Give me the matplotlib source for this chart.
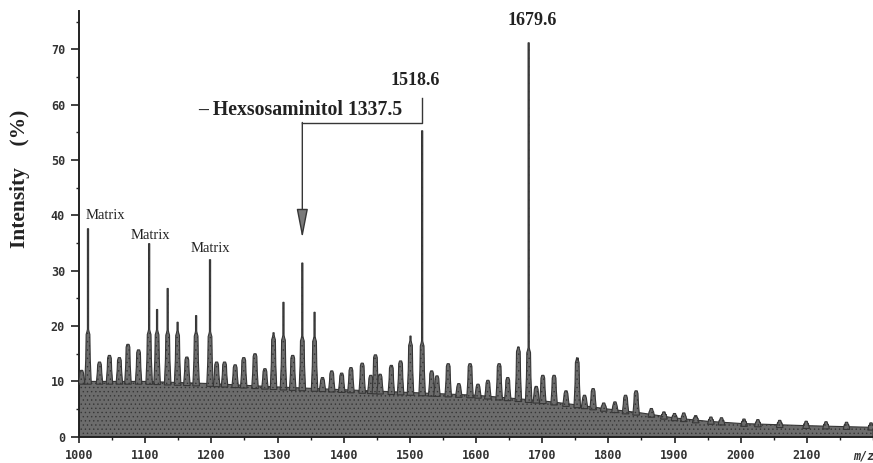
import numpy as np
import matplotlib
matplotlib.use("Agg")
import matplotlib.pyplot as plt
from matplotlib.ticker import MultipleLocator

# MALDI spectrum, m/z 1000-2200
floor_mz = [1000, 1100, 1200, 1300, 1400, 1500, 1600, 1700, 1750, 1800,
            1850, 1900, 1950, 2000, 2100, 2200]
floor_pct = [10.0, 10.0, 9.6, 9.0, 8.5, 8.0, 7.5, 6.5, 5.8, 5.0,
             4.3, 3.4, 2.8, 2.4, 2.0, 1.7]

peak_mz = [1004, 1013.6, 1031, 1046, 1061, 1074, 1090, 1106, 1118, 1134,
           1149, 1163, 1177, 1198, 1208, 1220, 1236, 1249, 1266, 1281,
           1294, 1309, 1323, 1337.5, 1356, 1368, 1382, 1397, 1411, 1428,
           1441, 1448, 1455, 1472, 1486, 1501, 1518.6, 1533, 1541, 1558,
           1574, 1591, 1603, 1618, 1635, 1648, 1664, 1679.6, 1691, 1701,
           1718, 1736, 1753, 1764, 1777, 1793, 1810, 1826, 1842, 1865,
           1884, 1900, 1914, 1932, 1955, 1971, 2005, 2026, 2059, 2099,
           2129, 2160, 2197]
peak_pct = [12.0, 37.6, 13.5, 14.7, 14.3, 16.7, 15.7, 34.9, 23.0, 26.8,
            20.7, 14.4, 21.9, 32.0, 13.5, 13.5, 13.0, 14.3, 15.0, 12.3,
            18.8, 24.3, 14.7, 31.4, 22.5, 10.7, 11.9, 11.5, 12.5, 13.3,
            11.1, 14.8, 11.3, 12.9, 13.7, 18.2, 55.3, 11.9, 11.0, 13.2,
            9.6, 13.2, 9.5, 10.2, 13.2, 10.7, 16.2, 71.2, 9.1, 11.1,
            11.1, 8.3, 13.9, 7.5, 8.7, 6.1, 6.3, 7.5, 8.3, 5.1,
            4.3, 3.7, 4.3, 3.4, 3.5, 2.8, 3.2, 2.4, 2.6, 2.2,
            2.2, 1.8, 2.4]

matrix_mz = [1013.6, 1106, 1198]
hexnol_mz = 1337.5
labelled_mz = [1518.6, 1679.6]

x_ticks = list(range(1000, 2200, 100))
y_ticks = list(range(0, 80, 10))

FILL = "#6c6c6c"
EDGE = "#363636"
SERIF = ["Liberation Serif", "DejaVu Serif"]
plt.rcParams["hatch.linewidth"] = 0.5

fig = plt.figure(figsize=(8.73, 4.63), dpi=100)
ax = fig.add_axes([0.0905, 0.0567, 0.9095, 0.919])

# grey background hump of the spectrum
ax.fill_between(floor_mz, 0, floor_pct, facecolor=FILL, edgecolor=EDGE,
                hatch="....", linewidth=0.8, zorder=2)


def floor_at(m):
    return float(np.interp(m, floor_mz, floor_pct))


# each peak: a finger-shaped cluster, thin spike above it for tall ones
for m, h in zip(peak_mz, peak_pct):
    f = floor_at(m)
    h = max(h, f + 0.8)
    d = h - f
    fh = f + min(d, 9)
    xs = [m - 5.0, m - 3.4, m - 2.8, m - 1.6]
    ys = [f - 0.5, f + 0.45 * (fh - f), fh - 0.5, fh]
    if h > fh:
        xs += [m - 0.9, m - 0.9]
        ys += [fh + 0.4, h]
    xs = xs + [2 * m - x for x in xs[::-1]]
    ys = ys + ys[::-1]
    ax.fill(xs, ys, facecolor=FILL, edgecolor=EDGE, linewidth=0.8,
            hatch="....", zorder=3)

# labels
pk = dict(zip(peak_mz, peak_pct))
ax.text(1010.6, pk[matrix_mz[0]] + 2.4, "Matrix", ha="left", va="center",
        fontsize=10.5, family=SERIF, color="#222222")
ax.text(matrix_mz[1] + 2, pk[matrix_mz[1]] + 1.5, "Matrix", ha="center",
        va="center", fontsize=10.5, family=SERIF, color="#222222")
ax.text(matrix_mz[2], pk[matrix_mz[2]] + 2.0, "Matrix", ha="center",
        va="center", fontsize=10.5, family=SERIF, color="#222222")

ax.text(labelled_mz[0] - 11, pk[labelled_mz[0]] + 9.1, "%.1f" % labelled_mz[0],
        ha="center", va="center", fontsize=13, fontweight="bold",
        family=SERIF, color="#222222")
ax.text(labelled_mz[1] + 6, pk[labelled_mz[1]] + 4.1, "%.1f" % labelled_mz[1],
        ha="center", va="center", fontsize=13, fontweight="bold",
        family=SERIF, color="#222222")

# hexosaminitol loss bracket and arrow
ax.text(1488, 59.0, "\u2013 Hexsosaminitol %.1f" % hexnol_mz, ha="right",
        va="center", fontsize=14.2, fontweight="bold", family=SERIF,
        color="#222222")
ax.plot([labelled_mz[0], labelled_mz[0], hexnol_mz], [61.2, 56.7, 56.7],
        color=EDGE, linewidth=1.0, zorder=4)
ax.annotate("", xy=(hexnol_mz, 35.9), xytext=(hexnol_mz, 56.8),
            arrowprops=dict(arrowstyle="-|>,head_length=1.8,head_width=0.35",
                            facecolor="#7a7a7a", edgecolor=EDGE,
                            linewidth=1.0, shrinkA=0, shrinkB=0))

# axes
ax.set_xlim(1000, 2200)
ax.set_ylim(0, 76.9)
ax.set_xticks(x_ticks)
ax.set_yticks(y_ticks)
ax.xaxis.set_minor_locator(MultipleLocator(50))
ax.yaxis.set_minor_locator(MultipleLocator(5))
for s in ("top", "right"):
    ax.spines[s].set_visible(False)
for s in ("left", "bottom"):
    ax.spines[s].set_linewidth(1.4)
    ax.spines[s].set_color("#222222")
ax.tick_params(which="major", length=6, width=1.2, color="#222222",
               labelsize=8.5, labelcolor="#333333", pad=4)
ax.tick_params(axis="x", which="major", length=4, pad=5)
ax.tick_params(which="minor", length=2.5, width=1.0, color="#222222")
for lab in ax.get_xticklabels() + ax.get_yticklabels():
    lab.set_family(["DejaVu Sans Mono"])
    lab.set_fontweight("bold")

ax.annotate("m/z", xy=(0.988, 0), xycoords="axes fraction",
            xytext=(0, -9), textcoords="offset points", ha="center",
            va="top", fontsize=8.5, style="italic", fontweight="bold",
            family=["DejaVu Sans Mono"], color="#333333")

ax.set_ylabel("Intensity    (%)", fontsize=15.5, family=SERIF,
              fontweight="bold", color="#222222")
ax.yaxis.set_label_coords(-0.062, 0.607)

fig.savefig("out.png", dpi=100)
